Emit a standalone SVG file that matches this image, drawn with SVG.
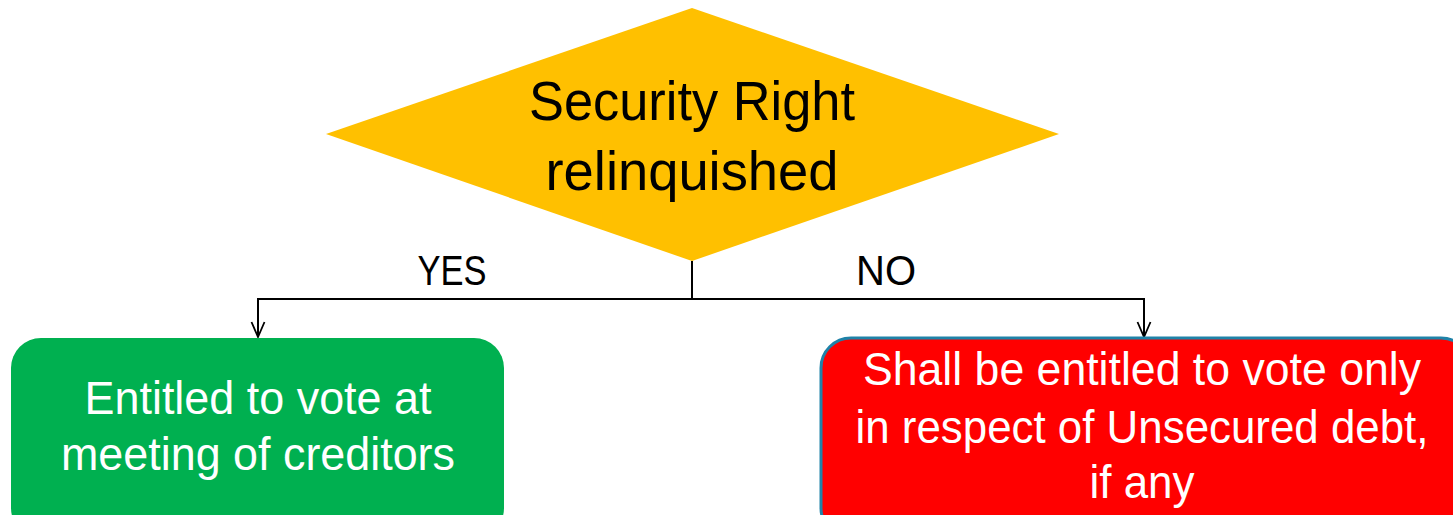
<svg xmlns="http://www.w3.org/2000/svg" width="1453" height="515" viewBox="0 0 1453 515">
  <style>
    .lbl { font-family: "Liberation Sans", Arial, sans-serif; text-anchor: middle; }
    .dark { fill: #000000; }
    .light { fill: #ffffff; }
    .wire { fill: none; stroke: #000000; stroke-width: 2; }
  </style>
  <defs>
    <marker id="openArrow" viewBox="0 0 20 20" refX="18" refY="10" markerWidth="20" markerHeight="20" markerUnits="userSpaceOnUse" orient="auto">
      <path d="M3,3.5 L18,10 L3,16.5" fill="none" stroke="#000000" stroke-width="1.8"/>
    </marker>
  </defs>

  <rect width="1453" height="515" fill="#ffffff"/>

  <!-- Decision -->
  <g id="decision">
    <polygon points="692,8 1059,134 692,261 326,134" fill="#ffc000"/>
    <text class="lbl dark" x="692" y="120" font-size="56" textLength="326" lengthAdjust="spacingAndGlyphs">Security Right</text>
    <text class="lbl dark" x="692" y="190" font-size="56" textLength="293" lengthAdjust="spacingAndGlyphs">relinquished</text>
  </g>

  <!-- Connectors -->
  <g id="connectors">
    <path class="wire" d="M692,261 V299"/>
    <path class="wire" d="M692,299 H258 V337" marker-end="url(#openArrow)"/>
    <path class="wire" d="M692,299 H1144 V337" marker-end="url(#openArrow)"/>
    <text class="lbl dark" x="452" y="285" font-size="42" textLength="69" lengthAdjust="spacingAndGlyphs">YES</text>
    <text class="lbl dark" x="886" y="285" font-size="42" textLength="60" lengthAdjust="spacingAndGlyphs">NO</text>
  </g>

  <!-- Outcome: yes -->
  <g id="yes-outcome">
    <rect x="11" y="338" width="493" height="200" rx="30" ry="30" fill="#00b050"/>
    <text class="lbl light" x="258" y="414" font-size="47" textLength="347" lengthAdjust="spacingAndGlyphs">Entitled to vote at</text>
    <text class="lbl light" x="258" y="470" font-size="47" textLength="394" lengthAdjust="spacingAndGlyphs">meeting of creditors</text>
  </g>

  <!-- Outcome: no -->
  <g id="no-outcome">
    <rect x="821" y="338" width="650" height="200" rx="30" ry="30" fill="#ff0000" stroke="#1f82a8" stroke-width="3"/>
    <text class="lbl light" x="1142" y="385" font-size="46" textLength="558" lengthAdjust="spacingAndGlyphs">Shall be entitled to vote only</text>
    <text class="lbl light" x="1142" y="443" font-size="46" textLength="573" lengthAdjust="spacingAndGlyphs">in respect of Unsecured debt,</text>
    <text class="lbl light" x="1142" y="498" font-size="46" textLength="105" lengthAdjust="spacingAndGlyphs">if any</text>
  </g>
</svg>
